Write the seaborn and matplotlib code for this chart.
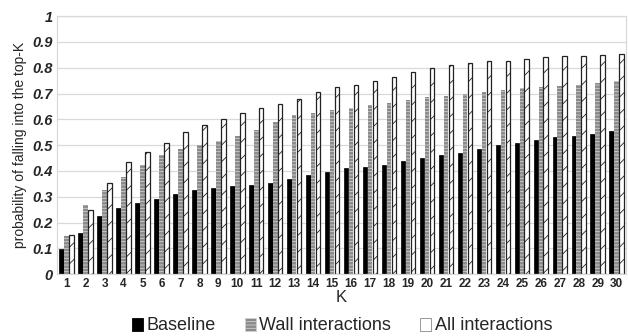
import numpy as np
import pandas as pd
import matplotlib
matplotlib.use("Agg")
import matplotlib.pyplot as plt
from matplotlib.patches import Patch
import seaborn as sns

# values
k_values = list(range(1, 31))
baseline = [0.097, 0.16, 0.225, 0.255, 0.275, 0.29, 0.31, 0.325, 0.333, 0.34,
            0.345, 0.355, 0.37, 0.385, 0.395, 0.41, 0.415, 0.425, 0.44, 0.45,
            0.46, 0.47, 0.485, 0.50, 0.51, 0.52, 0.53, 0.535, 0.545, 0.555]
wall = [0.147, 0.27, 0.325, 0.375, 0.425, 0.46, 0.485, 0.50, 0.515, 0.535,
        0.56, 0.59, 0.615, 0.625, 0.635, 0.645, 0.655, 0.665, 0.675, 0.685,
        0.69, 0.70, 0.705, 0.715, 0.72, 0.725, 0.73, 0.735, 0.74, 0.75]
all_inter = [0.15, 0.25, 0.355, 0.435, 0.475, 0.51, 0.55, 0.58, 0.60, 0.625,
             0.645, 0.66, 0.68, 0.705, 0.725, 0.735, 0.75, 0.765, 0.785, 0.80,
             0.81, 0.82, 0.825, 0.825, 0.835, 0.84, 0.845, 0.845, 0.85, 0.855]
series_names = ["Baseline", "Wall interactions", "All interactions"]

df = pd.DataFrame({
    "K": k_values * 3,
    "value": baseline + wall + all_inter,
    "series": [s for s in series_names for _ in k_values],
})

sns.set_style("white")
plt.rcParams["font.family"] = ["Liberation Sans", "DejaVu Sans"]
plt.rcParams["hatch.linewidth"] = 0.6

fig = plt.figure(figsize=(6.28, 3.36), dpi=100)
ax = fig.add_axes([0.091, 0.184, 0.906, 0.768])

sns.barplot(data=df, x="K", y="value", hue="series", hue_order=series_names,
            width=0.78, gap=0.08, ax=ax, legend=False)

# bar styles for each series (black / grey striped / white hatched)
styles = [
    dict(facecolor="black", edgecolor="black", hatch=None, lw=0.5),
    dict(facecolor="#8a8a8a", edgecolor="#d0d0d0", hatch="-----", lw=0.0),
    dict(facecolor="white", edgecolor="#222222", hatch="//", lw=0.9),
]
for cont, st in zip(ax.containers, styles):
    for bar in cont:
        bar.set_facecolor(st["facecolor"])
        bar.set_edgecolor(st["edgecolor"])
        bar.set_linewidth(st["lw"])
        if st["hatch"]:
            bar.set_hatch(st["hatch"])

ax.set_ylim(0, 1)
ax.set_yticks(np.arange(0, 1.01, 0.1))
ax.set_yticklabels(["0"] + [f"{v:.1f}" for v in np.arange(0.1, 0.95, 0.1)] + ["1"],
                   fontweight="bold", fontstyle="italic", fontsize=10.5)
ax.set_xticks(range(len(k_values)))
ax.set_xticklabels([str(k) for k in k_values], fontweight="bold", fontsize=8.5)
ax.tick_params(axis="both", length=0, pad=3)
ax.set_xlim(-0.5, len(k_values) - 0.5)

ax.yaxis.grid(True, color="#d9d9d9", linewidth=0.9)
ax.set_axisbelow(True)
for side in ["top", "right", "left", "bottom"]:
    ax.spines[side].set_color("#d9d9d9")
    ax.spines[side].set_linewidth(0.9)

ax.set_xlabel("K", fontsize=12, labelpad=0)
ax.set_ylabel("probability of falling into the top-K", fontsize=10, labelpad=4)

# legend below the plot
handles = [
    Patch(facecolor="black", edgecolor="black", linewidth=0.6),
    Patch(facecolor="#8a8a8a", edgecolor="#d0d0d0", hatch="-----", linewidth=0.6),
    Patch(facecolor="white", edgecolor="#888888", hatch="/", linewidth=0.6),
]
fig.legend(handles, series_names, loc="center", ncol=3, frameon=False,
           fontsize=13, bbox_to_anchor=(0.545, 0.03), handlelength=0.6,
           handleheight=0.75, handletextpad=0.2, columnspacing=1.6)

fig.savefig("out.png", dpi=100)
